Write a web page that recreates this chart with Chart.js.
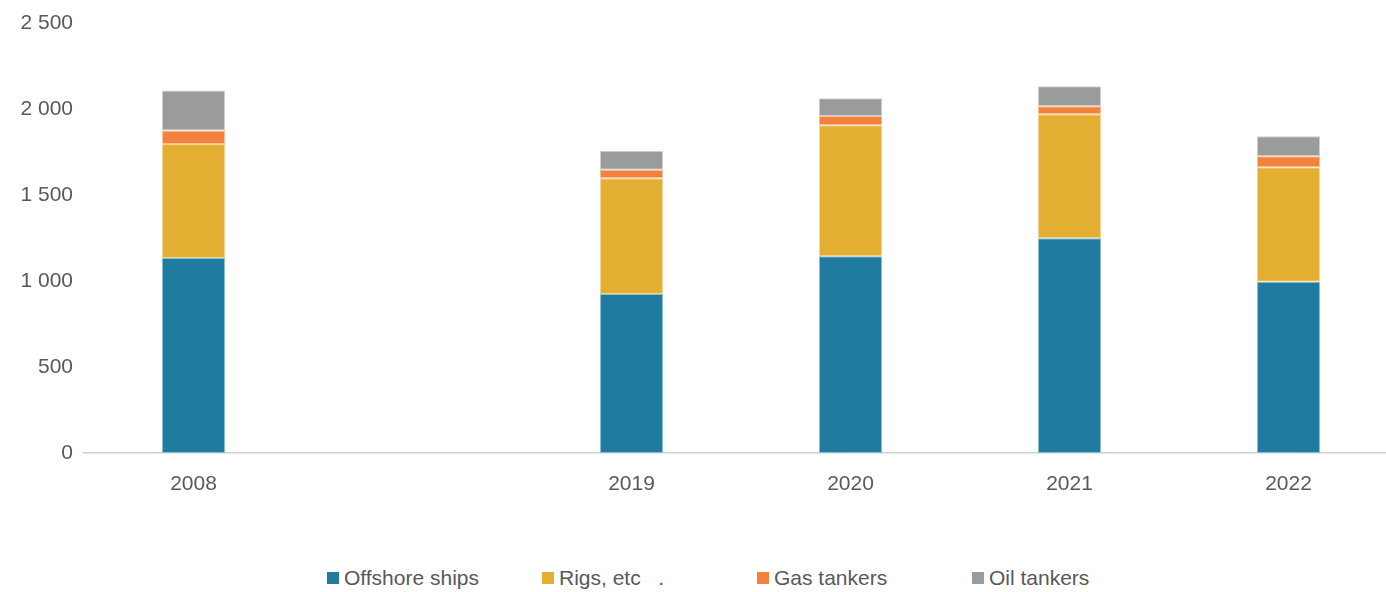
<!DOCTYPE html>
<html>
<head>
<meta charset="utf-8">
<script src="https://cdn.jsdelivr.net/npm/chart.js@4"></script>
<style>
  html, body { margin: 0; padding: 0; background: #fff; overflow: hidden; }
  #wrap { position: absolute; left: 0; top: 0; width: 1398px; height: 520px; }
  #legend {
    position: absolute; left: 327px; top: 566px; height: 24px;
    font-family: "Liberation Sans", Arial, sans-serif; font-size: 21px; color: #595959;
    display: flex; white-space: pre;
  }
  #legend .item { width: 215px; display: flex; align-items: center; }
  #legend .box { width: 12px; height: 12px; margin-right: 5px; flex: none; }
</style>
</head>
<body>
<div id="wrap"><canvas id="myChart"></canvas></div>
<div id="legend"></div>
<script>
const years = ["2008", "", "2019", "2020", "2021", "2022"];
const offshoreShips = [1134, null, 925, 1144, 1248, 996];
const rigs = [663, null, 672, 762, 721, 665];
const gasTankers = [78, null, 50, 53, 47, 64];
const oilTankers = [233, null, 109, 104, 116, 116];
const yTicks = [0, 500, 1000, 1500, 2000, 2500];

const names = ["Offshore ships", "Rigs, etc   .", "Gas tankers", "Oil tankers"];
const colors = ["#1f7ba0", "#e3ae31", "#f2813b", "#9a9c9c"];
// lighter edges around each segment
const edges = ["#8fbdd0", "#f1d698", "#f8c09d", "#cdcece"];
const series = [offshoreShips, rigs, gasTankers, oilTankers];

const font = { family: "'Liberation Sans', Arial, sans-serif", size: 21 };
const textColor = "#595959";

const datasets = series.map((values, i) => ({
  label: names[i],
  data: values,
  backgroundColor: colors[i],
  borderColor: edges[i],
  borderWidth: 1,
  borderSkipped: false,
  barPercentage: 0.288,
  categoryPercentage: 1,
}));

const ctx = document.getElementById("myChart");
const myChart = new Chart(ctx, {
  type: "bar",
  data: { labels: years, datasets: datasets },
  options: {
    responsive: true,
    maintainAspectRatio: false,
    animation: false,
    layout: { padding: { top: 23, left: 0, right: 0, bottom: 0 } },
    plugins: { legend: { display: false }, tooltip: { enabled: false } },
    scales: {
      x: {
        stacked: true,
        grid: { display: false },
        border: { display: true, color: "#d0d0d0", width: 1.5 },
        ticks: { color: textColor, font: font, padding: 11, maxRotation: 0 },
        afterFit: (axis) => { axis.height = 67; },
      },
      y: {
        stacked: true,
        min: 0,
        max: 2500,
        grid: { display: false },
        border: { display: false },
        afterBuildTicks: (axis) => { axis.ticks = yTicks.map((v) => ({ value: v })); },
        ticks: {
          color: textColor,
          font: font,
          padding: 3,
          callback: (v) => String(v).replace(/\B(?=(\d{3})+(?!\d))/g, " "),
        },
        afterFit: (axis) => { axis.width = 84; },
      },
    },
  },
});

const legend = document.getElementById("legend");
names.forEach((name, i) => {
  const item = document.createElement("div");
  item.className = "item";
  const box = document.createElement("span");
  box.className = "box";
  box.style.background = colors[i];
  const label = document.createElement("span");
  label.textContent = name;
  item.appendChild(box);
  item.appendChild(label);
  legend.appendChild(item);
});
</script>
</body>
</html>
